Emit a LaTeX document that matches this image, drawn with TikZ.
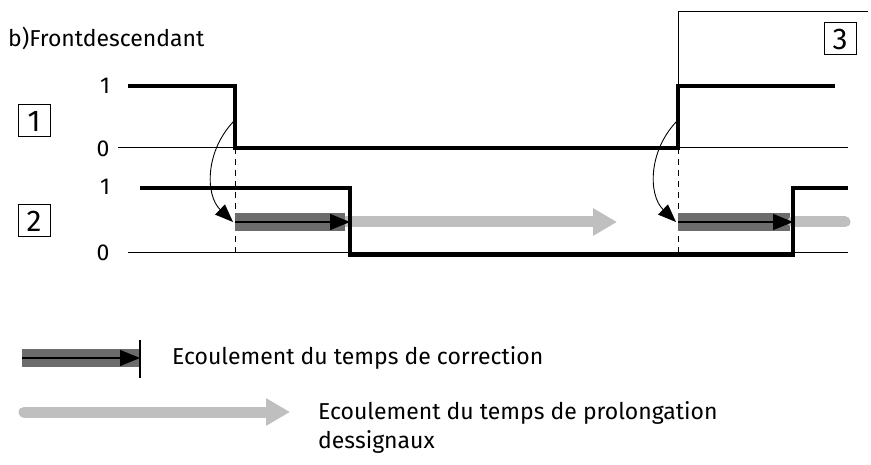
\documentclass[tikz,border=0pt]{standalone}
\usepackage{fontspec}
\setmainfont{Fira Sans}
\usetikzlibrary{arrows.meta}
\begin{document}
\begin{tikzpicture}[x=1pt,y=-1pt,font=\fontsize{23}{29}\selectfont,
  sig/.style={line width=3.4pt},
  axisline/.style={line width=1pt},
  lab/.style={inner sep=0pt},
  boxlab/.style={draw,line width=1pt,minimum width=32pt,minimum height=32pt,inner sep=0pt,font=\fontsize{30}{30}\selectfont},
  darkbar/.style={line width=18pt,draw=gray!85!black},
  lightarrow/.style={line width=11pt,draw=gray!50,-{Triangle[length=24pt,width=26pt]}},
  blackarrow/.style={line width=1.4pt,-{Triangle[length=20pt,width=16pt]}},
  dashv/.style={line width=1pt,dashed,dash pattern=on 6pt off 5pt},
  curv/.style={line width=0.9pt,-{Triangle[length=18pt,width=14pt]}}]
\useasboundingbox (0,0) rectangle (871,465);
\node[lab,anchor=west] (title) at (8,38) {b)Frontdescendant};
% axes
\draw[axisline] (118,148) -- (848,148);
\draw[axisline] (128,253) -- (848,253);
\node[lab] (a1) at (105,86) {1};
\node[lab] (a0) at (103,149) {0};
\node[lab] (b1) at (105,187) {1};
\node[lab] (b0) at (103,253) {0};
\node[boxlab] (n1) at (34,121) {1};
\node[boxlab] (n2) at (34,221) {2};
\node[boxlab] (n3) at (840,39) {3};
% bracket for 3
\draw[line width=1pt] (678,86) -- (678,12) -- (868,12);
% dashed guides
\draw[dashv] (235,148) -- (235,255);
\draw[dashv] (678,148) -- (678,255);
% bars
\draw[darkbar] (235,222) -- (345,222);
\draw[darkbar] (678,222) -- (790,222);
\draw[lightarrow] (345,222) -- (617,222);
\draw[line width=11pt,draw=gray!50,line cap=round] (793,222) -- (845,222);
\draw[blackarrow] (235,222) -- (350,222);
\draw[blackarrow] (678,222) -- (793,222);
% signals
\draw[sig] (128,86) -- (235,86) -- (235,148) -- (678,148) -- (678,86) -- (835,86);
\draw[sig] (140,188) -- (350,188) -- (350,255) -- (793,255) -- (793,188) -- (848,188);
% curved arrows
\draw[curv] (235,120) .. controls (205,150) and (205,195) .. (233,222);
\draw[curv] (678,120) .. controls (648,150) and (648,195) .. (676,222);
% legend
\draw[line width=18pt,draw=gray!85!black] (22,358) -- (140,358);
\draw[blackarrow] (22,358) -- (140,358);
\draw[line width=1.4pt] (140,340) -- (140,378);
\node[lab,anchor=west] (l1) at (172,358) {Ecoulement du temps de correction};
\draw[line width=11pt,draw=gray!50,line cap=round,-{Triangle[length=24pt,width=26pt]}] (24,412) -- (290,412);
\node[lab,anchor=west,align=left] (l2) at (318,427) {Ecoulement du temps de prolongation\\dessignaux};
\end{tikzpicture}
\end{document}
